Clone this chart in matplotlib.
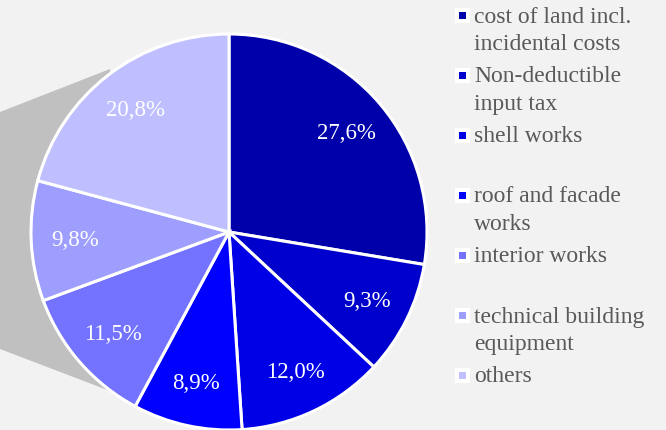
import matplotlib; matplotlib.use("Agg")
import matplotlib.pyplot as plt
from matplotlib.patches import Polygon, Rectangle
import numpy as np

categories = ["cost of land incl.\nincidental costs", "Non-deductible\ninput tax", "shell works",
              "roof and facade\nworks", "interior works", "technical building\nequipment", "others"]
shares = [27.6, 9.3, 12.0, 8.9, 11.5, 9.8, 20.8]
colors = ["#0000AA", "#0000CC", "#0000E6", "#0000FF", "#7373FF", "#9E9EFF", "#BFBFFF"]
BG = "#F2F2F2"; SERIF = "Liberation Serif"

W, H = 666, 431
fig = plt.figure(figsize=(W/100, H/100), dpi=100, facecolor=BG)
ax = fig.add_axes([0, 0, 1, 1]); ax.axis("off")
ax.set_xlim(0, W); ax.set_ylim(0, H); ax.set_aspect("equal")

cx, cy, r = 229, H-233, 198
# grey shadow behind the pie
ax.add_patch(Polygon([(0, H-113), (110, H-70), (110, H-392), (0, H-350)],
                     closed=True, facecolor="#C0C0C0", edgecolor="none", zorder=0))

wedges, _ = ax.pie(shares, colors=colors, startangle=90, counterclock=False,
                   center=(cx, cy), radius=r,
                   wedgeprops=dict(edgecolor="white", linewidth=2.2))
ax.set_xlim(0, W); ax.set_ylim(0, H)

# percentage labels
for w, v in zip(wedges, shares):
    a = np.deg2rad((w.theta1 + w.theta2) / 2)
    ax.text(cx + 0.78*r*np.cos(a), cy + 0.78*r*np.sin(a), f"{v:.1f}%".replace(".", ","),
            ha="center", va="center", color="white", fontsize=16.5, fontfamily=SERIF)

# legend drawn by hand to match spacing
for i, (lab, c) in enumerate(zip(categories, colors)):
    y = H - (16.5 + 60*i)
    ax.add_patch(Rectangle((455, y-7.5), 15, 15, facecolor="white", edgecolor="none", zorder=3))
    ax.add_patch(Rectangle((459, y-3.5), 7, 7, facecolor=c, edgecolor="none", zorder=4))
    ax.text(474, y+10, lab, ha="left", va="top", fontsize=17, fontfamily=SERIF,
            color="#595959", linespacing=1.4)

fig.savefig("out.png", dpi=100, facecolor=BG)
